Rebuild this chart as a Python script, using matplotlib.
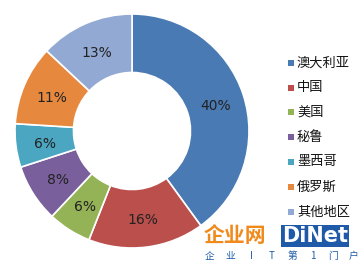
import matplotlib
matplotlib.use("Agg")
import matplotlib.pyplot as plt
from matplotlib.patches import Rectangle
import numpy as np

plt.rcParams['font.family'] = ['Noto Sans CJK SC', 'DejaVu Sans']

categories = ["澳大利亚", "中国", "美国", "秘鲁", "墨西哥", "俄罗斯", "其他地区"]
values = [40, 16, 6, 8, 6, 11, 13]
labels = ["40%", "16%", "6%", "8%", "6%", "11%", "13%"]
colors = ["#4A7AB4", "#BA4F4C", "#94B256", "#7A5F9D", "#4AA6C1", "#E6893F", "#92A9D3"]

W, H = 364, 263
fig = plt.figure(figsize=(W/100, H/100), dpi=100)
fig.patch.set_facecolor("white")

cx, cy, r = 132, 131, 117
ax = fig.add_axes([(cx - r)/W, (H - cy - r)/H, 2*r/W, 2*r/H])
wedges, texts = ax.pie(values, colors=colors, startangle=90, counterclock=False,
                       radius=1.0, wedgeprops=dict(width=0.5, edgecolor="white", linewidth=1.2))
ang = 90.0
for v, lab in zip(values, labels):
    theta = np.deg2rad(ang - v/100*360/2)
    ang -= v/100*360
    ax.text(0.75*np.cos(theta), 0.75*np.sin(theta) - 0.02, lab, ha="center", va="center",
            fontsize=10, color="#222222", family=["DejaVu Sans"])
ax.set_xlim(-1, 1)
ax.set_ylim(-1, 1)
ax.set_aspect("equal")
ax.axis("off")

# legend
ys = [63, 88, 112, 137, 162, 187, 212]
for c, name, y in zip(colors, categories, ys):
    fig.patches.append(Rectangle(((288)/W, (H - y - 3)/H), 6/W, 6/H,
                                 transform=fig.transFigure, facecolor=c, edgecolor="none"))
    fig.text(297/W, (H - y)/H, name, ha="left", va="center", fontsize=9.5, color="#111111")

# watermark
fig.text(204/W, (H - 236)/H, "企业网", ha="left", va="center", fontsize=15,
         fontweight="bold", color="#F08A1C")
fig.text(282/W, (H - 236)/H, "DiNet", ha="left", va="center", fontsize=15,
         fontweight="bold", color="white", family=["DejaVu Sans"],
         bbox=dict(boxstyle="square,pad=0.05", facecolor="#1E5AA8", edgecolor="none"))
wm_chars = ["企", "业", "I", "T", "第", "1", "门", "户"]
for i, ch in enumerate(wm_chars):
    fig.text((210 + i*20.5)/W, (H - 256)/H, ch, ha="center", va="center",
             fontsize=7, color="#1E5AA8")

fig.savefig("out.png", dpi=100)
